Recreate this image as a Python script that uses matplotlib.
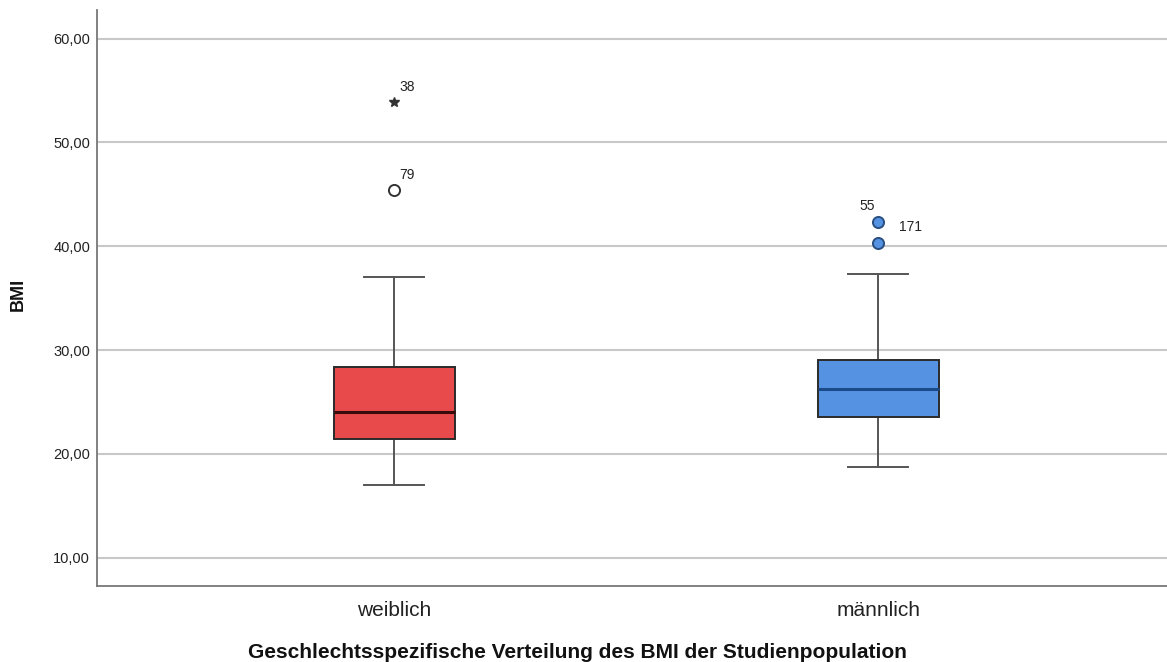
import matplotlib
matplotlib.use("Agg")
import matplotlib.pyplot as plt
from matplotlib.ticker import FixedLocator, FuncFormatter

plt.rcParams['font.family'] = ['Liberation Sans', 'DejaVu Sans']

# Daten
gruppen = ['weiblich', 'männlich']
q1 = [21.46, 23.58]
median = [24.07, 26.25]
q3 = [28.40, 29.05]
whisker_unten = [17.0, 18.77]
whisker_oben = [37.04, 37.33]

# Ausreißer (Kreis) und Extremwerte (Stern) mit Fallnummern
ausreisser_w = [45.4]
ausreisser_w_nr = ['79']
extrem_w = [53.9]
extrem_w_nr = ['38']
ausreisser_m = [42.3, 40.35]
ausreisser_m_nr = ['55', '171']

farben = ['#E8494B', '#5592E1']
median_farben = ['#3A0B0B', '#1B4A8A']
yticks = [10, 20, 30, 40, 50, 60]

fig = plt.figure(figsize=(11.67, 6.62), dpi=100)
ax = fig.add_axes([97/1167, (662-586)/662, (1167-97)/1167, (586-10)/662])

stats = []
for i, g in enumerate(gruppen):
    stats.append(dict(label=g, q1=q1[i], med=median[i], q3=q3[i],
                      whislo=whisker_unten[i], whishi=whisker_oben[i], fliers=[]))

bp = ax.bxp(stats, positions=[0, 1], widths=0.25, patch_artist=True,
            showfliers=False,
            whiskerprops=dict(color='#555555', lw=1.4),
            capprops=dict(color='#555555', lw=1.4),
            boxprops=dict(lw=1.4),
            medianprops=dict(lw=2.2))
for i, box in enumerate(bp['boxes']):
    box.set_facecolor(farben[i])
    box.set_edgecolor('#2B2B2B')
    box.set_zorder(3)
for i, m in enumerate(bp['medians']):
    m.set_color(median_farben[i])
    m.set_zorder(4)
for c in bp['caps']:
    xd = c.get_xdata()
    mid = (xd[0] + xd[1]) / 2
    c.set_xdata([mid - 0.0625, mid + 0.0625])

# weiblich: Ausreißer und Extremwert
ax.plot([0]*len(ausreisser_w), ausreisser_w, 'o', ms=8, mfc='white', mec='#333333', mew=1.4, zorder=5)
ax.plot([0]*len(extrem_w), extrem_w, '*', ms=7, color='#333333', zorder=5)
for v, nr in zip(ausreisser_w + extrem_w, ausreisser_w_nr + extrem_w_nr):
    ax.annotate(nr, (0, v), xytext=(4, 6), textcoords='offset points',
                fontsize=10, color='#222222', ha='left', va='bottom')

# männlich: Ausreißer
ax.plot([1]*len(ausreisser_m), ausreisser_m, 'o', ms=8, mfc=farben[1], mec='#2A4F80', mew=1.4, zorder=5)
ax.annotate(ausreisser_m_nr[0], (1, ausreisser_m[0]), xytext=(-2, 7), textcoords='offset points',
            fontsize=10, color='#222222', ha='right', va='bottom')
ax.annotate(ausreisser_m_nr[1], (1, ausreisser_m[1]), xytext=(15, 11), textcoords='offset points',
            fontsize=10, color='#222222', ha='left', va='center')

ax.set_xlim(-0.614, 1.597)
ax.set_ylim(7.27, 62.76)
ax.yaxis.set_major_locator(FixedLocator(yticks))
ax.yaxis.set_major_formatter(FuncFormatter(lambda v, p: f'{v:.2f}'.replace('.', ',')))
ax.set_xticks([0, 1])
ax.set_xticklabels(gruppen)
ax.tick_params(axis='x', length=0, pad=11, labelsize=15, labelcolor='#222222')
ax.tick_params(axis='y', length=0, pad=5, labelsize=10.5, labelcolor='#222222')
ax.grid(axis='y', color='#C8C8C8', lw=1.5)
ax.set_axisbelow(True)
for s in ['top', 'right']:
    ax.spines[s].set_visible(False)
for s in ['left', 'bottom']:
    ax.spines[s].set_color('#777777')
    ax.spines[s].set_linewidth(1.3)

fig.text(577/1167, (662-658)/662, 'Geschlechtsspezifische Verteilung des BMI der Studienpopulation',
         ha='center', va='baseline', fontsize=15, fontweight='bold', color='#111111')
fig.text(18/1167, (662-294)/662, 'BMI', rotation=90, ha='center', va='center',
         fontsize=13, fontweight='bold', color='#111111')

fig.savefig('out.png', dpi=100)
